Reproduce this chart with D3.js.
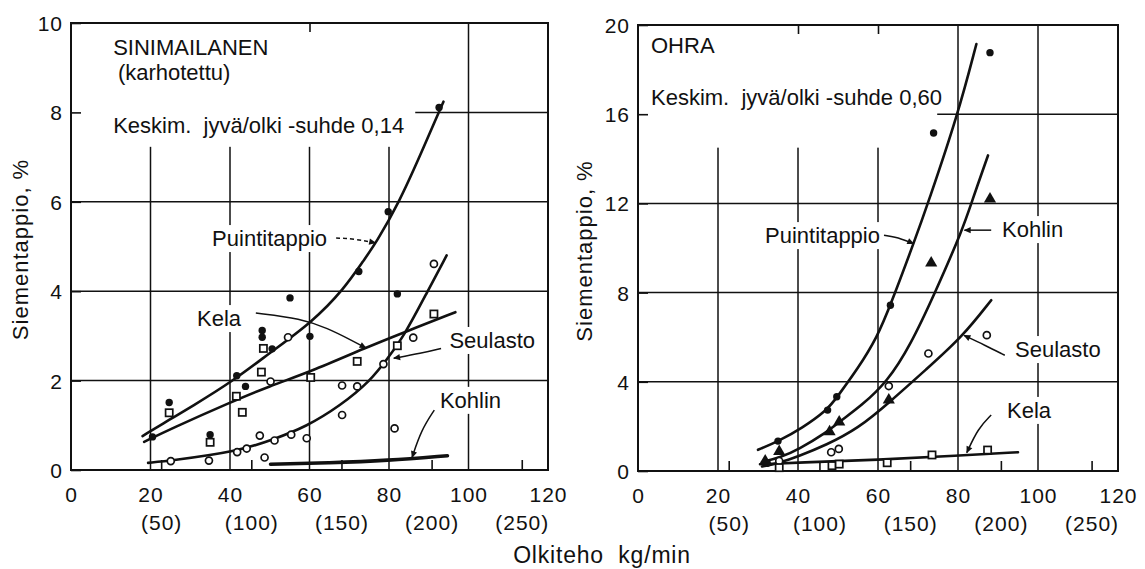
<!DOCTYPE html>
<html>
<head>
<meta charset="utf-8">
<script src="https://cdn.jsdelivr.net/npm/d3@7"></script>
<style>
  body { margin: 0; background: #fff; }
  svg { display: block; }
  text { font-family: "Liberation Sans", Arial, sans-serif; fill: #111; }
</style>
</head>
<body>
<svg id="chart" width="1145" height="569"></svg>
<script>
"use strict";

/*global d3*/

// axes
var xTicks = [0, 20, 40, 60, 80, 100, 120],
    lbTicks = [50, 100, 150, 200, 250],
    kgPerLb = 0.4536,
    leftYTicks = [0, 2, 4, 6, 8, 10],
    rightYTicks = [0, 4, 8, 12, 16, 20];

// SINIMAILANEN, measured points
var leftPuintiPts = [[20.5, 0.74], [24.7, 1.51], [35.0, 0.79], [41.7, 2.11], [43.9, 1.87], [48.1, 3.12],
                     [48.1, 2.97], [50.6, 2.71], [55.1, 3.85], [60.1, 2.99], [72.4, 4.44], [79.8, 5.78],
                     [82.1, 3.94], [92.6, 8.11]],
    leftKelaPts = [[24.7, 1.28], [35.0, 0.62], [41.6, 1.65], [43.1, 1.29], [47.9, 2.19], [48.4, 2.72],
                   [60.3, 2.07], [72.0, 2.43], [82.1, 2.78], [91.3, 3.49]],
    leftSeulastoPts = [[25.1, 0.20], [34.7, 0.21], [41.8, 0.40], [44.2, 0.48], [47.5, 0.77], [48.7, 0.28],
                       [50.2, 1.98], [51.2, 0.66], [54.6, 2.97], [55.4, 0.79], [59.3, 0.71], [68.2, 1.23],
                       [68.2, 1.89], [72.0, 1.87], [78.6, 2.37], [81.4, 0.93], [86.1, 2.96], [91.3, 4.61]];

// SINIMAILANEN, fitted curves
var leftPuintiCurve = [[18, 0.76], [25, 1.14], [30, 1.4], [40.6, 1.98], [50, 2.62], [60.7, 3.31], [68.7, 4.05],
                       [73.7, 4.7], [76.8, 5.09], [82.6, 6.0], [87.7, 7.01], [93.7, 8.24]],
    leftKelaCurve = [[18.4, 0.63], [25.1, 0.92], [40, 1.51], [50, 1.88], [60, 2.19], [74.5, 2.75],
                     [83.8, 3.08], [96.7, 3.53]],
    leftSeulastoCurve = [[19.4, 0.16], [25.1, 0.21], [41.8, 0.41], [51.1, 0.69], [59, 0.96], [67.8, 1.44],
                         [75.4, 2.0], [79.6, 2.49], [83.8, 3.0], [89.6, 3.98], [94.5, 4.8]],
    leftKohlinCurve = [[50.2, 0.13], [65, 0.16], [79.6, 0.21], [94.7, 0.32]];

// OHRA, measured points
var rightPuintiPts = [[32.3, 0.35], [35.0, 1.34], [47.4, 2.73], [49.7, 3.33], [63.1, 7.43], [73.9, 15.16],
                      [88.0, 18.76]],
    rightKohlinPts = [[31.8, 0.45], [35.3, 0.87], [47.9, 1.76], [50.3, 2.2], [62.7, 3.18], [73.3, 9.33],
                      [88.0, 12.2]],
    rightSeulastoPts = [[35.3, 0.45], [48.3, 0.84], [50.2, 0.99], [62.7, 3.81], [72.6, 5.27], [87.2, 6.09]],
    rightKelaPts = [[35.3, 0.15], [48.5, 0.24], [50.3, 0.31], [62.3, 0.37], [73.5, 0.72], [87.4, 0.94]];

// OHRA, fitted curves
var rightPuintiCurve = [[30, 0.95], [35, 1.33], [41, 1.92], [47.4, 2.75], [49.7, 3.3], [55, 4.6], [59.8, 6.0],
                        [63.1, 7.43], [68.9, 10.2], [72.6, 12.06], [80, 16.0], [84.6, 19.15]],
    rightKohlinCurve = [[31, 0.4], [35.5, 0.6], [40, 0.95], [47.4, 1.76], [50.3, 2.2], [56, 2.95], [62.3, 4.0],
                        [68, 5.6], [74.3, 8.0], [81.3, 10.9], [83.4, 12.06], [87.5, 14.15]],
    rightSeulastoCurve = [[31, 0.2], [35, 0.35], [40, 0.65], [47, 1.16], [55, 1.9], [63, 3.1], [72, 4.55],
                          [81, 6.0], [88.3, 7.66]],
    rightKelaCurve = [[30.5, 0.3], [40, 0.38], [60, 0.5], [80, 0.69], [95, 0.84]];

var ink = "#111",
    svg = d3.select("#chart");

var defs = svg.append("defs");
defs.append("marker")
    .attr("id", "arrow")
    .attr("viewBox", "0 0 10 10")
    .attr("refX", 9)
    .attr("refY", 5)
    .attr("markerWidth", 9)
    .attr("markerHeight", 7)
    .attr("markerUnits", "userSpaceOnUse")
    .attr("orient", "auto")
    .append("path")
    .attr("d", "M0,0.5 L10,5 L0,9.5 z")
    .attr("fill", ink);

var panels = [
    {
        key: "sinimailanen",
        left: 71, right: 548, top: 23, bottom: 470,
        yMax: 10, yTicks: leftYTicks, topTicks: [60],
        mask: {x: 86.6, y: 7.23},
        yTitleX: 28,
        series: [
            {pts: leftPuintiPts, curve: leftPuintiCurve, sym: "dot"},
            {pts: leftKelaPts, curve: leftKelaCurve, sym: "square"},
            {pts: leftSeulastoPts, curve: leftSeulastoCurve, sym: "ring"},
            {pts: [], curve: leftKohlinCurve, sym: "none", width: 3.6}
        ],
        labels: [
            {text: "SINIMAILANEN", x: 10.6, y: 9.28, plain: true},
            {text: "(karhotettu)", x: 11.8, y: 8.72, plain: true},
            {text: "Keskim.  jyvä/olki -suhde 0,14", x: 10.6, y: 7.54, plain: true},
            {text: "Puintitappio", x: 35.5, y: 5.01},
            {text: "Kela", x: 31.7, y: 3.22},
            {text: "Seulasto", x: 95.2, y: 2.73},
            {text: "Kohlin", x: 92.8, y: 1.39}
        ],
        arrows: [
            {pts: [[66.7, 5.19], [71.5, 5.17], [76.6, 5.08]], dash: true},
            {pts: [[46.5, 3.51], [57.9, 3.39], [64.6, 3.17], [70.4, 2.91], [74.2, 2.73]]},
            {pts: [[93.1, 2.72], [88.1, 2.61], [81.2, 2.5]]},
            {pts: [[91.4, 1.34], [88.1, 0.89], [85.8, 0.28]]}
        ]
    },
    {
        key: "ohra",
        left: 638, right: 1118, top: 25, bottom: 471,
        yMax: 20, yTicks: rightYTicks, topTicks: [40, 60],
        mask: {x: 74.8, y: 14.5},
        yTitleX: 592,
        series: [
            {pts: rightPuintiPts, curve: rightPuintiCurve, sym: "dot"},
            {pts: rightKohlinPts, curve: rightKohlinCurve, sym: "tri"},
            {pts: rightSeulastoPts, curve: rightSeulastoCurve, sym: "ring"},
            {pts: rightKelaPts, curve: rightKelaCurve, sym: "square"}
        ],
        labels: [
            {text: "OHRA", x: 3.25, y: 18.74, plain: true},
            {text: "Keskim.  jyvä/olki -suhde 0,60", x: 3.25, y: 16.41, plain: true},
            {text: "Puintitappio", x: 31.75, y: 10.22},
            {text: "Kohlin", x: 91.0, y: 10.49},
            {text: "Seulasto", x: 94.25, y: 5.11},
            {text: "Kela", x: 92.25, y: 2.38}
        ],
        arrows: [
            {pts: [[61.5, 10.57], [66, 10.42], [68.9, 10.19]]},
            {pts: [[88.3, 10.8], [81.6, 10.8]]},
            {pts: [[91.7, 5.19], [86.7, 5.64], [81.5, 6.08]]},
            {pts: [[88.3, 2.51], [85.0, 1.91], [82.2, 0.82]]}
        ]
    }
];

var styleAxis = function(g) {
    g.select(".domain").remove();
    g.selectAll("line").attr("stroke", ink).attr("stroke-width", 1.6);
    g.attr("font-family", null).attr("font-size", null);
    g.selectAll("text")
        .attr("font-family", "'DejaVu Sans', sans-serif")
        .attr("font-size", 21)
        .attr("letter-spacing", 1)
        .attr("fill", ink);
};

var drawPanel = function(p) {
    var x = d3.scaleLinear().domain([0, 120]).range([p.left, p.right]),
        y = d3.scaleLinear().domain([0, p.yMax]).range([p.bottom, p.top]),
        g = svg.append("g").attr("class", "panel " + p.key),
        line = d3.line()
            .x(function(d) { return x(d[0]); })
            .y(function(d) { return y(d[1]); });

    // grid
    g.append("g").selectAll("line")
        .data(p.yTicks.slice(1, -1))
        .enter().append("line")
        .attr("x1", p.left).attr("x2", p.right)
        .attr("y1", y).attr("y2", y)
        .attr("stroke", ink).attr("stroke-width", 1.5);

    g.append("g").selectAll("line")
        .data(xTicks.slice(1, -1))
        .enter().append("line")
        .attr("x1", x).attr("x2", x)
        .attr("y1", p.top).attr("y2", p.bottom)
        .attr("stroke", ink).attr("stroke-width", 1.5);

    // blank corner behind the heading text
    g.append("rect")
        .attr("x", p.left)
        .attr("y", p.top)
        .attr("width", x(p.mask.x) - p.left)
        .attr("height", y(p.mask.y) - p.top)
        .attr("fill", "#fff");

    g.append("rect")
        .attr("x", p.left).attr("y", p.top)
        .attr("width", p.right - p.left)
        .attr("height", p.bottom - p.top)
        .attr("fill", "none")
        .attr("stroke", ink)
        .attr("stroke-width", 2);

    // axes
    g.append("g")
        .attr("transform", "translate(0," + p.bottom + ")")
        .call(d3.axisBottom(x).tickValues(xTicks).tickSize(0).tickPadding(17))
        .call(styleAxis);

    g.append("g")
        .attr("transform", "translate(0," + p.bottom + ")")
        .call(d3.axisBottom(x)
              .tickValues(lbTicks.map(function(v) { return v * kgPerLb; }))
              .tickFormat(function(v) { return "(" + Math.round(v / kgPerLb) + ")"; })
              .tickSizeInner(-10)
              .tickPadding(45))
        .call(styleAxis);

    g.append("g")
        .attr("transform", "translate(" + p.left + ",0)")
        .call(d3.axisLeft(y).tickValues(p.yTicks).tickSizeInner(-10).tickPadding(8))
        .call(styleAxis)
        .selectAll("text").attr("dy", "0.36em");

    g.append("g")
        .attr("transform", "translate(0," + p.top + ")")
        .call(d3.axisTop(x).tickValues(p.topTicks).tickSizeInner(-9).tickFormat(""))
        .call(styleAxis);

    g.append("text")
        .attr("transform", "translate(" + p.yTitleX + "," + ((p.top + p.bottom) / 2 + 3) + ") rotate(-90)")
        .attr("text-anchor", "middle")
        .attr("font-size", 22)
        .attr("letter-spacing", 1)
        .text("Siementappio, %");

    // labels with a white backing so grid lines break round them
    var labels = g.append("g").selectAll("g")
        .data(p.labels)
        .enter().append("g");

    labels.append("text")
        .attr("x", function(d) { return x(d.x); })
        .attr("y", function(d) { return y(d.y); })
        .attr("font-size", 22)
        .style("white-space", "pre")
        .text(function(d) { return d.text; });

    labels.each(function(d) {
        if (d.plain) {
            return;
        }
        var box = d3.select(this).select("text").node().getBBox();
        d3.select(this).insert("rect", "text")
            .attr("x", box.x - 3).attr("y", box.y - 1)
            .attr("width", box.width + 6).attr("height", box.height + 2)
            .attr("fill", "#fff");
    });

    // curves
    g.append("g").selectAll("path")
        .data(p.series)
        .enter().append("path")
        .attr("d", function(s) { return line.curve(d3.curveBasis)(s.curve); })
        .attr("fill", "none")
        .attr("stroke", ink)
        .attr("stroke-width", function(s) { return s.width || 2.6; })
        .attr("stroke-linecap", "round");

    // points
    p.series.forEach(function(s) {
        var pts = g.append("g").selectAll("g")
            .data(s.pts)
            .enter().append("g")
            .attr("transform", function(d) { return "translate(" + x(d[0]) + "," + y(d[1]) + ")"; });

        if (s.sym === "dot") {
            pts.append("circle").attr("r", 3.7).attr("fill", ink);
        } else if (s.sym === "ring") {
            pts.append("circle").attr("r", 3.5)
                .attr("fill", "#fff").attr("stroke", ink).attr("stroke-width", 1.7);
        } else if (s.sym === "square") {
            pts.append("rect").attr("x", -3.6).attr("y", -3.6).attr("width", 7.2).attr("height", 7.2)
                .attr("fill", "#fff").attr("stroke", ink).attr("stroke-width", 1.7);
        } else if (s.sym === "tri") {
            pts.append("path").attr("d", d3.symbol(d3.symbolTriangle, 64)()).attr("fill", ink);
        }
    });

    // leader arrows
    g.append("g").selectAll("path")
        .data(p.arrows)
        .enter().append("path")
        .attr("d", function(a) { return line.curve(d3.curveBasis)(a.pts); })
        .attr("fill", "none")
        .attr("stroke", ink)
        .attr("stroke-width", 1.5)
        .attr("stroke-dasharray", function(a) { return a.dash ? "4,3" : null; })
        .attr("marker-end", "url(#arrow)");
};

panels.forEach(drawPanel);

svg.append("text")
    .attr("x", 602)
    .attr("y", 563)
    .attr("text-anchor", "middle")
    .attr("font-size", 23)
    .attr("letter-spacing", 0.8)
    .style("white-space", "pre")
    .text("Olkiteho  kg/min");
</script>
</body>
</html>
